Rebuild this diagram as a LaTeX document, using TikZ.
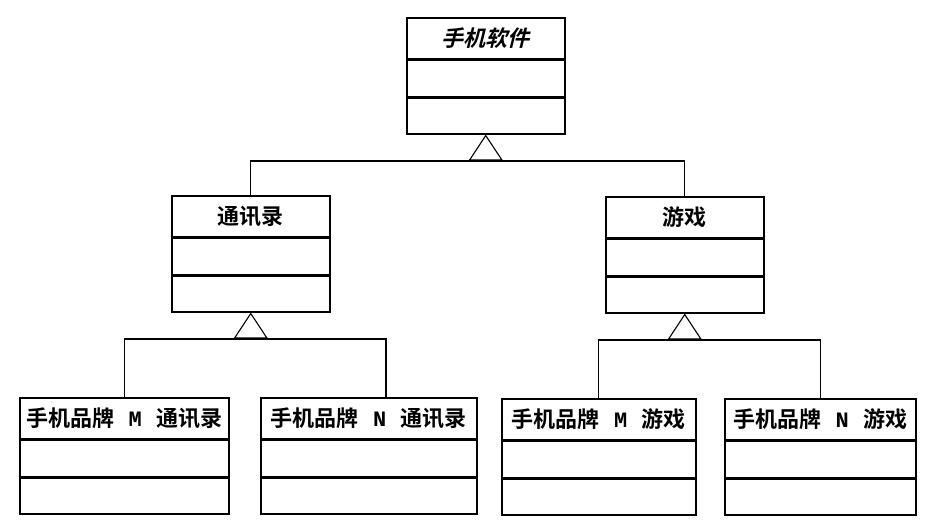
\documentclass[tikz,border=0pt]{standalone}
\usepackage{fontspec}
\setmainfont{Noto Sans CJK SC}[BoldFont={Noto Sans CJK SC Bold},ItalicFont={Noto Sans CJK SC},ItalicFeatures={FakeSlant=0.25},BoldItalicFont={Noto Sans CJK SC Bold},BoldItalicFeatures={FakeSlant=0.25}]
\newfontfamily\monofnt{Liberation Mono}
\usetikzlibrary{arrows.meta}
\newcommand{\umlclass}[5]{%
\node[classhead,minimum width=#4pt] (#1) at (#2,#3) {#5};
\node[classbody,minimum width=#4pt,anchor=north] (#1-attr) at (#1.south) {};
\node[classbody,minimum width=#4pt,anchor=north] (#1-ops) at (#1-attr.south) {};
}
\newcommand{\brand}[1]{\hspace{0.65em}{\monofnt #1}\hspace{0.65em}}

\begin{document}
\begin{tikzpicture}[x=1pt,y=-1pt,
classhead/.style={draw,line width=1.5pt,anchor=north west,minimum height=41pt,inner sep=0pt,font=\fontsize{22}{22}\selectfont\bfseries},
classbody/.style={draw,line width=1.5pt,minimum height=36pt,inner sep=0pt},
link/.style={line width=1.1pt},
inherit/.style={line width=1.1pt,-{Triangle[open,length=26pt,width=34pt,line width=1.1pt]}}]
\useasboundingbox (0,0) rectangle (931,522);

%abstract class
\umlclass{soft}{406}{17}{158}{\itshape 手机软件}

%second level
\umlclass{comm}{171}{195}{158}{通讯录}
\umlclass{game}{605}{196}{158}{游戏}

%brand classes
\umlclass{mcomm}{19}{397}{209}{手机品牌\brand{M}通讯录}
\umlclass{ncomm}{260}{397}{216}{手机品牌\brand{N}通讯录}
\umlclass{mgame}{501}{398}{194}{手机品牌\brand{M}游戏}
\umlclass{ngame}{724}{398}{191}{手机品牌\brand{N}游戏}

%top inheritance
\coordinate (j0) at (soft-ops.south |- 0,161);
\draw[link] (comm.north) |- (j0) -| (game.north);
\draw[inherit] (j0) -- (soft-ops.south);

%comm inheritance
\coordinate (j1) at (comm-ops.south |- 0,339);
\coordinate (k1) at (386,397);
\draw[link] (mcomm.north) |- (j1) -| (k1);
\draw[inherit] (j1) -- (comm-ops.south);

%game inheritance
\coordinate (j2) at (game-ops.south |- 0,340);
\draw[link] (mgame.north) |- (j2) -| (ngame.north);
\draw[inherit] (j2) -- (game-ops.south);
\end{tikzpicture}
\end{document}
